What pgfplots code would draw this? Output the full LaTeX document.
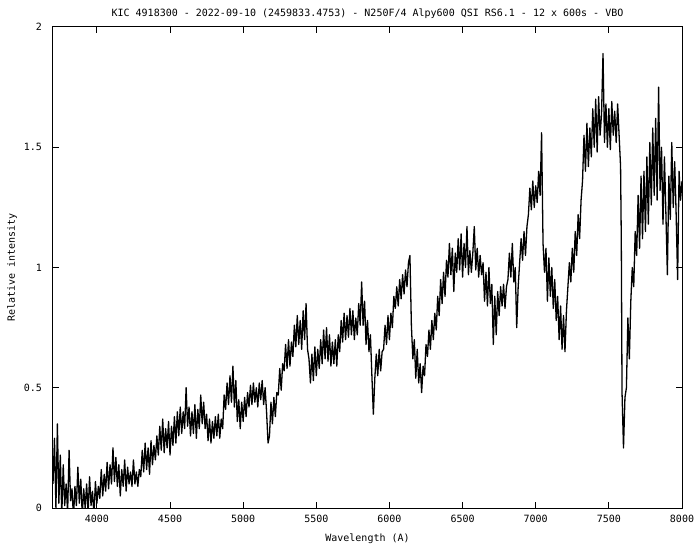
\documentclass[border=0pt]{standalone}
\usepackage{fontspec}
\setmainfont{DejaVu Sans Mono}
\usepackage{pgfplots}
\usepackage{pgfplotstable}
\pgfplotsset{compat=1.18}
\pgfplotstableread{
x y
3700 0.10
3710 0.29
3720 0.00
3730 0.35
3740 0.02
3750 0.22
3760 -0.03
3770 0.18
3780 0.01
3790 0.10
3800 -0.02
3810 0.24
3820 0.03
3830 0.08
3840 -0.04
3850 0.09
3860 0.01
3870 0.17
3880 0.02
3890 0.12
3900 -0.03
3910 0.08
3920 0.00
3930 0.10
3940 -0.02
3950 0.13
3960 0.01
3970 0.07
3980 -0.03
3990 0.11
4000 0.02
4010 0.09
4020 0.04
4030 0.16
4040 0.05
4050 0.14
4060 0.07
4070 0.19
4080 0.08
4090 0.18
4100 0.10
4110 0.25
4120 0.11
4130 0.21
4140 0.09
4150 0.18
4160 0.05
4170 0.16
4180 0.09
4190 0.20
4200 0.07
4210 0.17
4220 0.10
4230 0.15
4240 0.09
4250 0.20
4260 0.10
4270 0.15
4280 0.09
4290 0.16
4300 0.13
4310 0.24
4320 0.15
4330 0.27
4340 0.16
4350 0.25
4360 0.14
4370 0.28
4380 0.18
4390 0.26
4400 0.20
4410 0.30
4420 0.22
4430 0.34
4440 0.24
4450 0.37
4460 0.23
4470 0.33
4480 0.25
4490 0.36
4500 0.22
4510 0.34
4520 0.26
4530 0.38
4540 0.27
4550 0.40
4560 0.30
4570 0.42
4580 0.31
4590 0.40
4600 0.33
4610 0.50
4620 0.34
4630 0.42
4640 0.30
4650 0.40
4660 0.31
4670 0.43
4680 0.29
4690 0.41
4700 0.33
4710 0.47
4720 0.35
4730 0.44
4740 0.33
4750 0.39
4760 0.28
4770 0.37
4780 0.27
4790 0.36
4800 0.29
4810 0.38
4820 0.30
4830 0.39
4840 0.29
4850 0.37
4860 0.33
4870 0.47
4880 0.41
4890 0.52
4900 0.43
4910 0.55
4920 0.44
4930 0.59
4940 0.42
4950 0.53
4960 0.36
4970 0.45
4980 0.33
4990 0.44
5000 0.36
5010 0.46
5020 0.38
5030 0.48
5040 0.42
5050 0.51
5060 0.43
5070 0.52
5080 0.44
5090 0.50
5100 0.42
5110 0.52
5120 0.45
5130 0.53
5140 0.43
5150 0.50
5160 0.40
5170 0.27
5180 0.30
5190 0.44
5200 0.35
5210 0.46
5220 0.38
5230 0.48
5240 0.47
5250 0.58
5260 0.49
5270 0.60
5280 0.57
5290 0.68
5300 0.58
5310 0.70
5320 0.59
5330 0.69
5340 0.63
5350 0.76
5360 0.67
5370 0.80
5380 0.68
5390 0.78
5400 0.66
5410 0.82
5420 0.70
5430 0.85
5440 0.66
5450 0.62
5460 0.52
5470 0.64
5480 0.53
5490 0.67
5500 0.55
5510 0.66
5520 0.58
5530 0.70
5540 0.60
5550 0.74
5560 0.62
5570 0.75
5580 0.61
5590 0.72
5600 0.59
5610 0.69
5620 0.60
5630 0.70
5640 0.59
5650 0.72
5660 0.65
5670 0.78
5680 0.69
5690 0.81
5700 0.70
5710 0.80
5720 0.71
5730 0.83
5740 0.72
5750 0.82
5760 0.70
5770 0.79
5780 0.72
5790 0.85
5800 0.76
5810 0.94
5820 0.76
5830 0.86
5840 0.68
5850 0.78
5860 0.65
5870 0.72
5880 0.55
5890 0.39
5900 0.54
5910 0.64
5920 0.55
5930 0.66
5940 0.57
5950 0.65
5960 0.66
5970 0.76
5980 0.68
5990 0.80
6000 0.70
6010 0.81
6020 0.75
6030 0.88
6040 0.83
6050 0.92
6060 0.84
6070 0.95
6080 0.87
6090 0.97
6100 0.89
6110 0.99
6120 0.92
6130 1.02
6140 1.05
6150 0.76
6160 0.62
6170 0.70
6180 0.54
6190 0.66
6200 0.52
6210 0.60
6220 0.48
6230 0.59
6240 0.55
6250 0.68
6260 0.63
6270 0.74
6280 0.66
6290 0.78
6300 0.70
6310 0.81
6320 0.74
6330 0.88
6340 0.80
6350 0.95
6360 0.85
6370 0.98
6380 0.88
6390 1.03
6400 0.96
6410 1.10
6420 0.97
6430 1.08
6440 0.90
6450 1.06
6460 0.98
6470 1.12
6480 0.99
6490 1.14
6500 0.96
6510 1.10
6520 1.00
6530 1.17
6540 0.97
6550 1.07
6560 0.98
6570 1.06
6580 1.17
6590 0.99
6600 1.08
6610 0.96
6620 1.05
6630 0.97
6640 1.02
6650 0.86
6660 0.98
6670 0.84
6680 1.00
6690 0.85
6700 0.93
6710 0.68
6720 0.88
6730 0.72
6740 0.90
6750 0.80
6760 0.92
6770 0.84
6780 0.93
6790 0.83
6800 0.92
6810 0.95
6820 1.06
6830 0.96
6840 1.10
6850 0.94
6860 1.00
6870 0.75
6880 0.92
6890 1.02
6900 1.12
6910 1.03
6920 1.15
6930 1.05
6940 1.17
6950 1.22
6960 1.33
6970 1.24
6980 1.36
6990 1.25
7000 1.34
7010 1.27
7020 1.40
7030 1.30
7040 1.56
7050 1.10
7060 0.98
7070 1.08
7080 0.86
7090 1.04
7100 0.88
7110 1.00
7120 0.83
7130 0.95
7140 0.78
7150 0.88
7160 0.70
7170 0.84
7180 0.66
7190 0.80
7200 0.65
7210 0.82
7220 0.92
7230 1.02
7240 0.94
7250 1.08
7260 0.98
7270 1.15
7280 1.05
7290 1.22
7300 1.12
7310 1.28
7320 1.36
7330 1.55
7340 1.40
7350 1.60
7360 1.42
7370 1.58
7380 1.46
7390 1.66
7400 1.50
7410 1.70
7420 1.48
7430 1.71
7440 1.55
7450 1.64
7460 1.89
7470 1.52
7480 1.68
7490 1.50
7500 1.66
7510 1.49
7520 1.69
7530 1.55
7540 1.65
7550 1.52
7560 1.68
7570 1.55
7580 1.42
7585 1.11
7590 0.48
7600 0.25
7610 0.46
7620 0.50
7630 0.79
7640 0.62
7650 0.86
7660 1.00
7670 0.92
7680 1.15
7690 1.05
7700 1.30
7710 1.08
7720 1.38
7730 1.12
7740 1.40
7750 1.15
7760 1.46
7770 1.18
7780 1.52
7790 1.26
7800 1.58
7810 1.30
7820 1.62
7830 1.28
7840 1.75
7850 1.32
7860 1.50
7870 1.18
7880 1.46
7890 1.22
7900 0.97
7910 1.38
7920 1.20
7930 1.52
7940 1.25
7950 1.44
7960 1.22
7970 0.95
7980 1.40
7990 1.28
8000 1.36
}\spectrum
\begin{document}
\fontsize{10bp}{12bp}\selectfont
\begin{tikzpicture}
\begin{axis}[
  scale only axis,
  width=629bp, height=481bp,
  xmin=3700, xmax=8000, ymin=0, ymax=2,
  xtick={4000,4500,5000,5500,6000,6500,7000,7500,8000},
  xticklabels={4000,4500,5000,5500,6000,6500,7000,7500,8000},
  ytick={0,0.5,1,1.5,2},
  yticklabels={0,0.5,1,1.5,2},
  tick align=inside,
  major tick length=6bp,
  tick style={line width=1bp, black},
  axis line style={line width=1bp},
  xticklabel style={yshift=-3.5bp},
  yticklabel style={xshift=-7.5bp},
  title={KIC 4918300 - 2022-09-10 (2459833.4753) - N250F/4 Alpy600 QSI RS6.1 - 12 x 600s - VBO},
  title style={yshift=-1bp},
  xlabel={Wavelength (A)},
  ylabel={Relative intensity},
  xlabel style={yshift=-4bp},
]
\addplot[black, line width=1.3bp, line join=round] table[x=x, y=y] {\spectrum};
\end{axis}
\pgfresetboundingbox
\path[use as bounding box] ([shift={(-53bp,-42bp)}]current axis.south west) rectangle ([shift={(18bp,27bp)}]current axis.north east);
\end{tikzpicture}
\end{document}
